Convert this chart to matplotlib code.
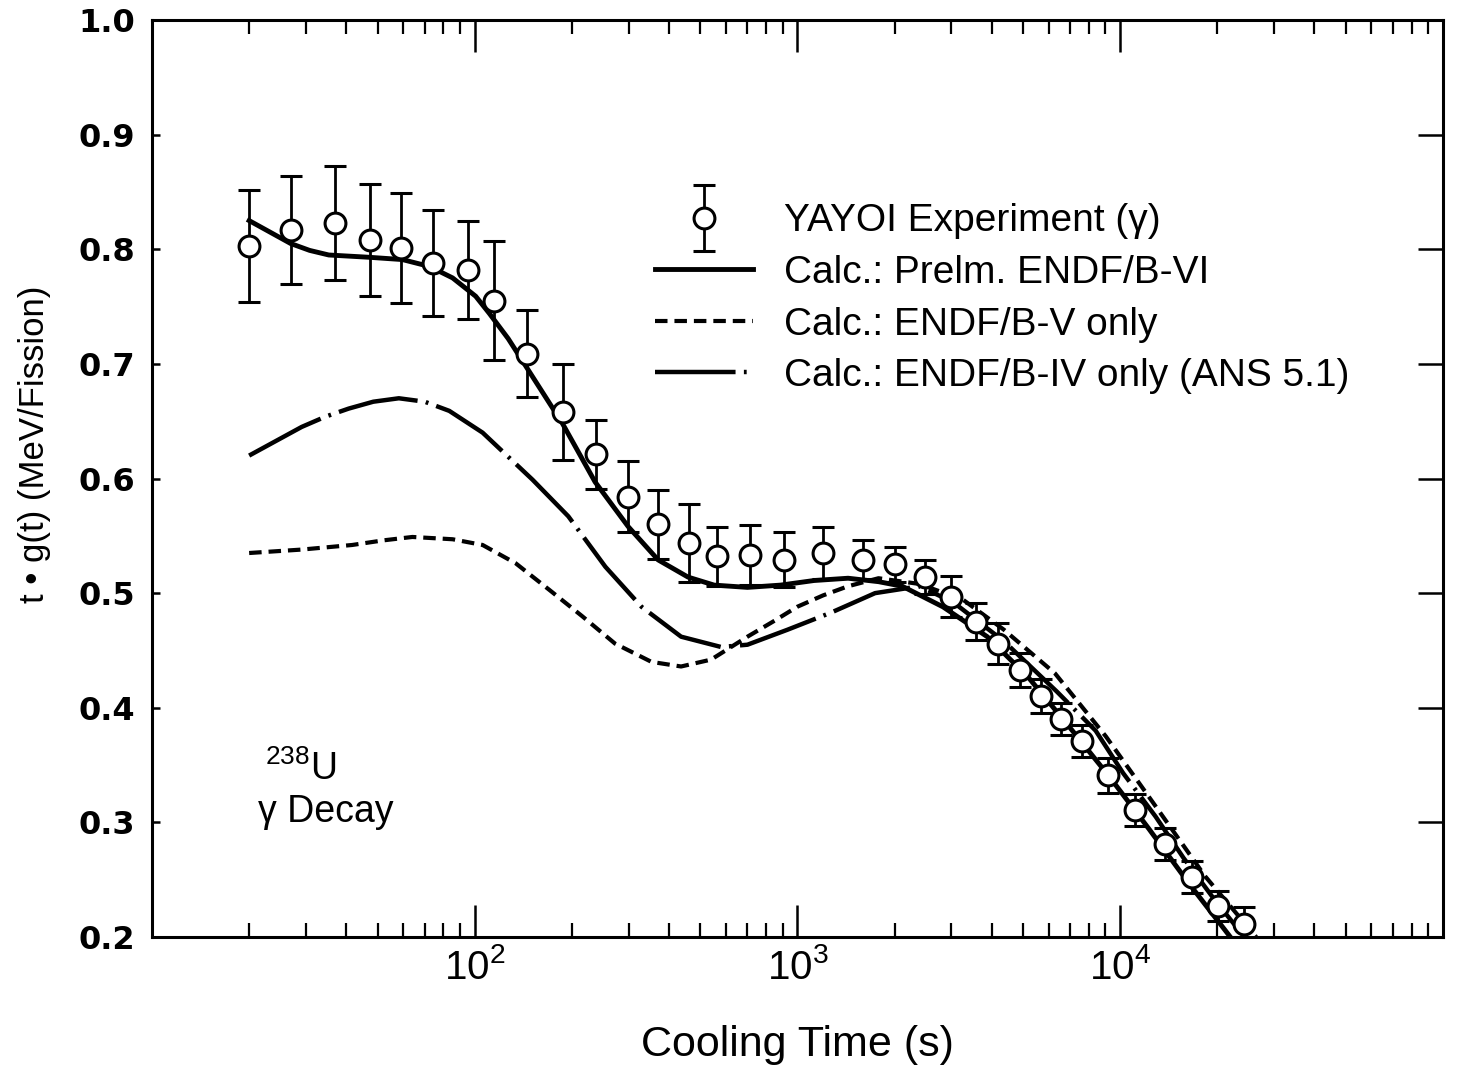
import numpy as np
import matplotlib
matplotlib.use("Agg")
import matplotlib.pyplot as plt
from matplotlib import font_manager
from matplotlib.container import ErrorbarContainer
from matplotlib.legend_handler import HandlerErrorbar
from matplotlib.ticker import LogLocator, NullFormatter

installed = {f.name for f in font_manager.fontManager.ttflist}
narrow = "Liberation Sans Narrow" if "Liberation Sans Narrow" in installed else "Liberation Sans"

plt.rcParams["font.family"] = ["Liberation Sans", "DejaVu Sans"]
plt.rcParams["mathtext.fontset"] = "custom"
plt.rcParams["mathtext.rm"] = narrow
plt.rcParams["mathtext.it"] = narrow + ":italic"
plt.rcParams["lines.scale_dashes"] = False

# YAYOI experiment (gamma), 238U
exp_t = [20, 27, 37, 47.5, 59, 74, 95, 115, 145, 188,
         238, 299, 371, 462, 564, 711, 908, 1197, 1600, 2004,
         2493, 3001, 3582, 4180, 4907, 5690, 6564, 7590, 9150, 11140,
         13760, 16680, 20140, 24160]
exp_val = [0.803, 0.817, 0.823, 0.808, 0.801, 0.788, 0.782, 0.755, 0.709, 0.658,
           0.621, 0.584, 0.560, 0.544, 0.532, 0.533, 0.529, 0.535, 0.529, 0.525,
           0.514, 0.497, 0.475, 0.456, 0.433, 0.410, 0.390, 0.371, 0.341, 0.311,
           0.281, 0.252, 0.227, 0.211]
exp_err = [0.049, 0.047, 0.050, 0.049, 0.048, 0.046, 0.043, 0.052, 0.038, 0.042,
           0.030, 0.031, 0.030, 0.034, 0.026, 0.026, 0.024, 0.023, 0.017, 0.015,
           0.015, 0.018, 0.016, 0.018, 0.015, 0.015, 0.014, 0.014, 0.015, 0.014,
           0.014, 0.014, 0.013, 0.015]

# Calc.: Prelm. ENDF/B-VI
vi_t = [20, 26.9, 30.8, 35.3, 47.1, 59.7, 72.4, 85.4, 100.7, 111, 127, 144, 187, 236, 299,
        370, 458, 552, 700, 887, 1125, 1435, 1783, 2113, 2825, 3873, 5176, 6925,
        9250, 12300, 16300, 22650]
vi_val = [0.825, 0.805, 0.799, 0.795, 0.793, 0.791, 0.785, 0.775, 0.759, 0.744, 0.722, 0.698,
          0.648, 0.597, 0.558, 0.529, 0.514, 0.507, 0.505, 0.507, 0.511, 0.513, 0.510,
          0.506, 0.488, 0.462, 0.427, 0.384, 0.340, 0.294, 0.247, 0.195]

# Calc.: ENDF/B-V only
v_t = [20, 29.1, 41.7, 52, 64.1, 85.4, 105.8, 134, 170, 215, 272, 353, 436, 540, 700,
       850, 997, 1200, 1435, 1783, 2388, 3268, 4365, 6280, 9030, 12880, 18330, 26400]
v_val = [0.535, 0.538, 0.542, 0.546, 0.549, 0.547, 0.542, 0.526, 0.503, 0.480, 0.456, 0.440,
         0.436, 0.442, 0.462, 0.476, 0.488, 0.498, 0.506, 0.513, 0.508, 0.494, 0.468, 0.430,
         0.375, 0.314, 0.253, 0.200]

# Calc.: ENDF/B-IV only (ANS 5.1)
iv_t = [20, 29.1, 34.5, 40.7, 48.5, 58.2, 70, 83.4, 105.8, 151, 195, 254, 329, 436, 580, 700,
        930, 1271, 1740, 2388, 3040, 4365, 6370, 8395, 10210, 12880, 15710, 19670, 24270]
iv_val = [0.620, 0.645, 0.654, 0.661, 0.667, 0.670, 0.667, 0.659, 0.640, 0.599, 0.567, 0.523,
          0.488, 0.462, 0.453, 0.455, 0.468, 0.483, 0.500, 0.506, 0.492, 0.458, 0.414, 0.380,
          0.343, 0.305, 0.269, 0.232, 0.200]

y_ticks = [0.2, 0.3, 0.4, 0.5, 0.6, 0.7, 0.8, 0.9, 1.0]
x_ticks = [1e2, 1e3, 1e4]
x_ticklabels = [r"$\mathrm{10^{2}}$", r"$\mathrm{10^{3}}$", r"$\mathrm{10^{4}}$"]

fig = plt.figure(figsize=(14.6, 10.7), dpi=100)
ax = fig.add_axes([0.1041, 0.1243, 0.8842, 0.8570])

ax.plot(vi_t, vi_val, color="black", lw=3.5)
ax.plot(v_t, v_val, color="black", lw=3.0, linestyle=(0, (9, 5)))
ax.plot(iv_t, iv_val, color="black", lw=3.2, linestyle=(0, (58, 6, 2, 6)))
eb = ax.errorbar(exp_t, exp_val, yerr=exp_err, fmt="o", ms=15, mfc="white", mec="black",
                 mew=2.2, ecolor="black", elinewidth=2, capsize=8, capthick=2, zorder=5)

ax.set_xscale("log")
ax.set_xlim(10, 1e5)
ax.set_ylim(0.2, 1.0)
ax.set_xticks(x_ticks)
ax.set_xticklabels(x_ticklabels, fontsize=29)
ax.xaxis.set_minor_locator(LogLocator(base=10, subs=np.arange(2, 10), numticks=20))
ax.xaxis.set_minor_formatter(NullFormatter())
ax.set_yticks(y_ticks)
ax.set_yticklabels([f"{v:.1f}" for v in y_ticks], fontfamily="DejaVu Sans",
                   fontweight="bold", fontsize=23)

for s in ax.spines.values():
    s.set_linewidth(2.2)
ax.tick_params(axis="x", which="major", direction="in", length=23, width=1.8, top=True, pad=8)
ax.tick_params(axis="x", which="minor", direction="in", length=10, width=1.6, top=True)
ax.tick_params(axis="y", which="major", direction="in", length=18, width=1.8, right=True, pad=12)
for t in ax.yaxis.get_major_ticks():
    t.tick1line.set_markersize(6)

ax.set_xlabel("Cooling Time (s)", fontsize=31, labelpad=27)
ax.set_ylabel("t \u2022 g(t) (MeV/Fission)", fontsize=25)
ax.yaxis.set_label_coords(-0.078, 0.537)

ax.text(0.0875, 0.171, r"$^{\mathrm{238}}$U", transform=ax.transAxes, fontsize=27)
ax.text(0.082, 0.125, "\u03b3 Decay", transform=ax.transAxes, fontsize=27)

handles = [eb] + ax.get_lines()[:3]
labels = ["YAYOI Experiment (\u03b3)", "Calc.: Prelm. ENDF/B-VI",
          "Calc.: ENDF/B-V only", "Calc.: ENDF/B-IV only (ANS 5.1)"]
ax.legend(handles, labels, loc="upper left", bbox_to_anchor=(0.39, 0.80), frameon=False,
          fontsize=28, handlelength=2.5, handletextpad=0.8, labelspacing=0.40,
          borderpad=0, borderaxespad=0,
          handler_map={ErrorbarContainer: HandlerErrorbar(yerr_size=0.85)})

fig.savefig("out.png", dpi=100)
